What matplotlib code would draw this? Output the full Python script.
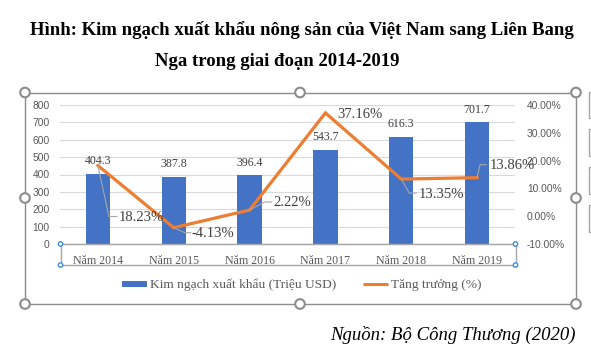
import matplotlib
matplotlib.use("Agg")
import matplotlib.pyplot as plt
from matplotlib.lines import Line2D
from matplotlib.patches import Circle, Rectangle

# ---- data ----
categories = ["Năm 2014", "Năm 2015", "Năm 2016", "Năm 2017", "Năm 2018", "Năm 2019"]
export_values = [404.3, 387.8, 396.4, 543.7, 616.3, 701.7]
growth_pct = [18.23, -4.13, 2.22, 37.16, 13.35, 13.86]
left_ticks = [0, 100, 200, 300, 400, 500, 600, 700, 800]
right_ticks = [-10, 0, 10, 20, 30, 40]
title_line1 = "Hình: Kim ngạch xuất khẩu nông sản của Việt Nam sang Liên Bang"
title_line2 = "Nga trong giai đoạn 2014-2019"
source_text = "Nguồn: Bộ Công Thương (2020)"
legend_labels = ["Kim ngạch xuất khẩu (Triệu USD)", "Tăng trưởng (%)"]

# ---- style ----
W, H = 591, 352
BLUE = "#4472C4"
ORANGE = "#ED7D31"
GRID = "#D9D9D9"
TXT = "#595959"
LBL = "#404040"
SERIF = "Liberation Serif"
SANS = "Liberation Sans"

fig = plt.figure(figsize=(W / 100, H / 100), dpi=100)
fig.patch.set_facecolor("white")

def fx(px):
    return px / W

def fy(py):
    return 1 - py / H

ax = fig.add_axes([fx(60), fy(244), (515 - 60) / W, (244 - 105) / H])
ax2 = ax.twinx()

x = list(range(len(categories)))
ax.bar(x, export_values, width=0.32, color=BLUE, zorder=2)
ax.set_xlim(-0.5, len(categories) - 0.5)
ax.set_ylim(0, 800)
ax.set_yticks(left_ticks)
ax.set_yticklabels([str(t) for t in left_ticks], fontfamily=SANS, fontsize=7.4, color=TXT)
ax.set_xticks(x)
ax.set_xticklabels(categories, fontfamily=SERIF, fontsize=8.6, color=TXT)
ax.tick_params(axis="both", length=0)
ax.tick_params(axis="y", pad=7.5)
ax.tick_params(axis="x", pad=8)
ax.yaxis.grid(True, color=GRID, lw=0.8, zorder=0)
ax.set_axisbelow(True)
for s in ["top", "left", "right"]:
    ax.spines[s].set_visible(False)
ax.spines["bottom"].set_color("#BFBFBF")

ax2.plot(x, growth_pct, color=ORANGE, lw=2.3, zorder=3, solid_joinstyle="miter")
ax2.set_ylim(-10, 40)
ax2.set_yticks(right_ticks)
ax2.set_yticklabels([f"{t:.2f}%" for t in right_ticks], fontfamily=SANS, fontsize=7.4, color=TXT)
ax2.tick_params(axis="y", length=0, pad=8.5)
for s in ["top", "left", "right", "bottom"]:
    ax2.spines[s].set_visible(False)

# bar value labels
for xi, v in zip(x, export_values):
    ax.annotate(f"{v:.1f}", xy=(xi, v), xytext=(0, 12.5), textcoords="offset pixels",
                ha="center", va="center", fontfamily=SERIF, fontsize=8.6, color=LBL)

# growth labels: text offset (px) and leader-line knee offsets (px)
label_offsets = [(21, -51.5), (18, -6), (24, 8), (12, -2), (17, -15.5), (13, 12.5)]
leaders = [[(11, -51), (19, -51)], [(11, -5), (17, -5)], [(15, 8), (22, 8)], None,
           [(8, -14), (15, -14)], [(3, 13), (9, 13)]]
for xi, g, off in zip(x, growth_pct, label_offsets):
    ax2.annotate(f"{g:.2f}%", xy=(xi, g), xytext=off, textcoords="offset pixels",
                 ha="left", va="center", fontfamily=SERIF, fontsize=10.5, color=LBL, zorder=5)

# overlay (pixel space) for frame decorations and leader lines
ov = fig.add_axes([0, 0, 1, 1], zorder=10)
ov.set_xlim(0, W)
ov.set_ylim(H, 0)
ov.axis("off")
ov.patch.set_alpha(0)

fig.canvas.draw()
for xi, g, ld in zip(x, growth_pct, leaders):
    if ld is None:
        continue
    dx, dy = ax2.transData.transform((xi, g))
    px0, py0 = dx, H - dy
    xs = [px0] + [px0 + a for a, b in ld]
    ys = [py0] + [py0 - b for a, b in ld]
    ov.plot(xs, ys, color="#A6A6A6", lw=0.8)

# chart frame
FR = "#8C8C8C"
ov.add_patch(Rectangle((25, 92.5), 576 - 25, 304 - 92.5, fill=False, ec=FR, lw=1.0))
for cx, cy in [(25, 92.5), (300, 92.5), (576, 92.5), (25, 198), (576, 198),
               (25, 304), (300, 304), (576, 304)]:
    ov.add_patch(Circle((cx, cy), 4.8, fc="white", ec=FR, lw=1.5, zorder=12))
# side buttons
for y0, y1 in [(92, 118), (129, 156), (167, 194), (205, 232)]:
    ov.add_patch(Rectangle((589, y0), 20, y1 - y0, fill=False, ec="#A6A6A6", lw=1.0, clip_on=False))
# x-axis selection
ov.add_patch(Rectangle((60.5, 244), 455, 21, fill=False, ec="#A6A6A6", lw=1.0))
for cx, cy in [(60.5, 244), (60.5, 265), (515.5, 244), (515.5, 265)]:
    ov.add_patch(Circle((cx, cy), 2.2, fc="white", ec="#3C8DDE", lw=1.0, zorder=12))

# legend
handles = [Line2D([], [], color=BLUE, lw=4.3, solid_capstyle="butt"),
           Line2D([], [], color=ORANGE, lw=2.2, solid_capstyle="butt")]
fig.legend(handles, legend_labels, loc="center", bbox_to_anchor=(fx(302), fy(285)), ncol=2,
           frameon=False, prop={"family": SERIF, "size": 9.6}, handlelength=1.88,
           handletextpad=0.23, columnspacing=2.0, borderpad=0, labelcolor=TXT)

# title and source
fig.text(fx(301.5), fy(30), title_line1, ha="center", va="center", fontfamily=SERIF,
         fontsize=13.5, fontweight="bold", color="black")
fig.text(fx(155), fy(62), title_line2, ha="left", va="center", fontfamily=SERIF,
         fontsize=13.5, fontweight="bold", color="black")
fig.text(fx(576), fy(335), source_text, ha="right", va="center", fontfamily=SERIF,
         fontsize=13.5, fontstyle="italic", color="black")

fig.savefig("out.png", dpi=100, facecolor="white")
